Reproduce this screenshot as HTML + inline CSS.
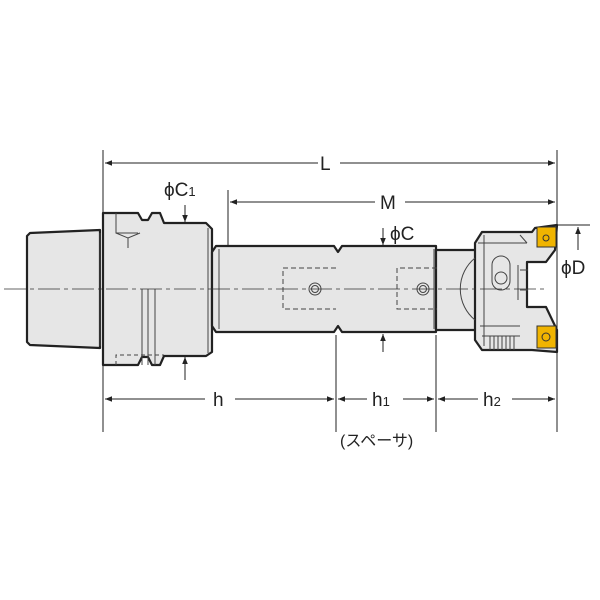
<!DOCTYPE html><html><head><meta charset="utf-8"><style>body{margin:0;background:#fff}svg{display:block}text{font-family:"Liberation Sans","Noto Sans CJK JP",sans-serif;fill:#222}</style></head><body>
<svg width="600" height="600" viewBox="0 0 600 600" xmlns="http://www.w3.org/2000/svg">
<defs><marker id="a" viewBox="0 0 10 10" refX="10" refY="5" markerWidth="9" markerHeight="7" orient="auto-start-reverse"><path d="M0,1L10,5L0,9z" fill="#222"/></marker></defs>
<g stroke="#222" stroke-width="2.2" fill="#e6e6e6" stroke-linejoin="round">
<path d="M27,236 L30,233 L100,230 L100,348 L30,345 L27,342 Z"/>
<path d="M103,224 L103,213 L138,213 L142,220 L148,220 L152,213 L160,213 L164,223 L206,223 L212,229 L212,352 L206,356 L164,356 L160,365 L152,365 L148,357 L142,357 L138,365 L103,365 L103,353 Z"/>
<path d="M216,246 L334,246 L338,252 L342,246 L436,246 L436,332 L342,332 L338,326 L334,332 L216,332 L212,326 L212,252 Z"/>
<path d="M436,250 L476,250 L476,330 L436,330 Z"/>
<path d="M475,243 L482,232 L532,232 L535,228 L557,225 L555,250 L546,262 L527,262 L527,307 L546,307 L557,330 L557,352 L532,350 L482,350 L475,340 Z"/>
</g>
<g stroke="#444" stroke-width="1" fill="none">
<path d="M100,233 V346"/><path d="M208,228 V353"/><path d="M219,249 V329"/><path d="M434,249 V329"/>
<path d="M475,258 A40,40 0 0 0 475,320"/>
<path d="M478,243 H527 M484,235 V346 M520,235 L527,243"/>
<rect x="492" y="256" width="18" height="34" rx="9"/><circle cx="501" cy="278" r="6"/>
<path d="M520,270 H528 M520,290 H528 M518,265 V300"/>
<path d="M480,326 H520 M482,336 H520 M490,336 V350 M494,336 V350 M498,336 V350 M502,336 V350 M506,336 V350 M510,336 V350 M514,336 V350"/>
<path d="M142,289 V365 M148,289 V365 M155,289 V365"/>
<path d="M116,213 V233 H138 M116,233 L128,238 L140,233 M128,238 V248"/>
<path stroke-dasharray="4,3" d="M116,365 V355 H164"/>
<path stroke-dasharray="5,3" d="M336,268 H283 V309 H336 M437,268 H397 V309 H437"/>
<circle cx="315" cy="289" r="6"/><circle cx="315" cy="289" r="3.5"/>
<circle cx="423" cy="289" r="6"/><circle cx="423" cy="289" r="3.5"/>
</g>
<path d="M4,289 H545" stroke="#333" stroke-width="0.8" stroke-dasharray="22,4,4,4"/>
<rect x="537" y="227" width="19" height="20" fill="#f0b400" stroke="#333"/>
<rect x="537" y="326" width="19" height="22" fill="#f0b400" stroke="#333"/>
<circle cx="546" cy="238" r="3" fill="none" stroke="#333"/><circle cx="546" cy="337" r="4" fill="none" stroke="#333"/>
<g stroke="#222" stroke-width="1" fill="none">
<path d="M103,150 V432 M557,150 V432 M228,190 V245 M336,335 V432 M436,335 V432 M558,225 H590"/>
<path d="M105,163 H318 M340,163 H555" marker-start="url(#a)" marker-end="url(#a)"/>
<path d="M230,202 H375 M405,202 H555" marker-start="url(#a)" marker-end="url(#a)"/>
<path d="M105,399 H205 M235,399 H334" marker-start="url(#a)" marker-end="url(#a)"/>
<path d="M338,399 H367 M403,399 H434" marker-start="url(#a)" marker-end="url(#a)"/>
<path d="M438,399 H478 M512,399 H555" marker-start="url(#a)" marker-end="url(#a)"/>
<path d="M185,205 V222" marker-end="url(#a)"/><path d="M185,380 V357" marker-end="url(#a)"/>
<path d="M383,228 V245" marker-end="url(#a)"/><path d="M383,352 V334" marker-end="url(#a)"/>
<path d="M578,250 V227" marker-end="url(#a)"/>
</g>
<g font-size="19">
<text x="320" y="170">L</text><text x="380" y="209">M</text>
<text x="164" y="196">ϕC<tspan font-size="13">1</tspan></text>
<text x="390" y="240">ϕC</text><text x="561" y="274">ϕD</text>
<text x="213" y="406">h</text><text x="372" y="406">h<tspan font-size="13">1</tspan></text><text x="483" y="406">h<tspan font-size="13">2</tspan></text>
<text x="340" y="446" font-size="16">(スペーサ)</text>
</g>
</svg></body></html>
